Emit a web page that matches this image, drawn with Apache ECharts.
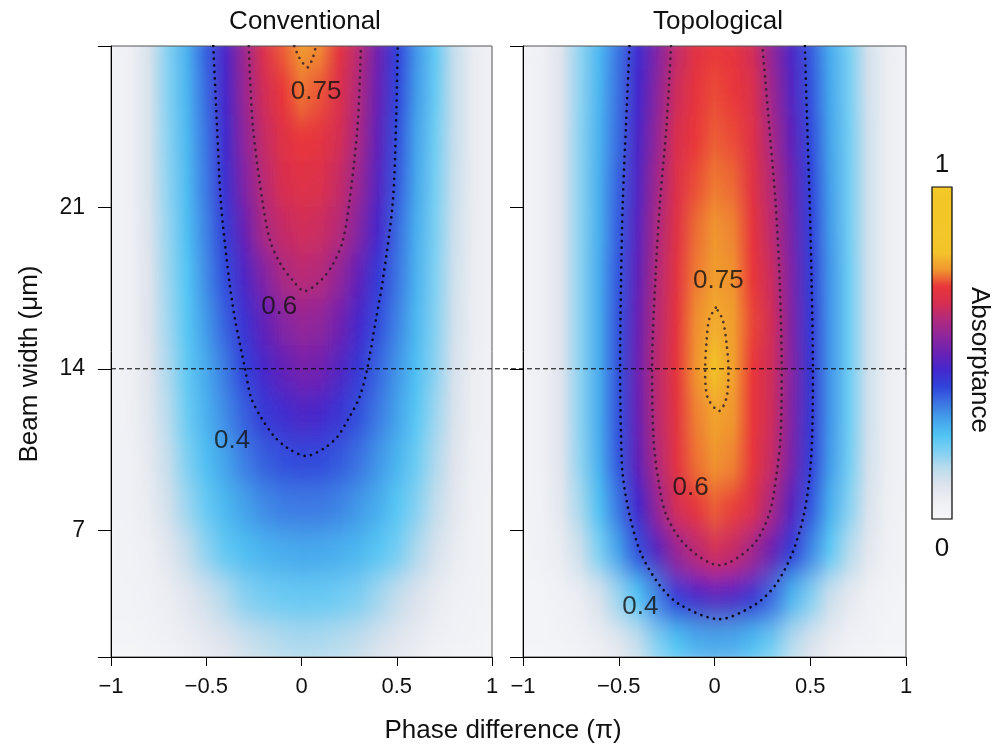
<!DOCTYPE html>
<html>
<head>
<meta charset="utf-8">
<script src="https://cdn.jsdelivr.net/npm/echarts@6/dist/echarts.min.js"></script>
<style>
html, body { margin: 0; padding: 0; background: #fff; }
#wrap { position: relative; width: 997px; height: 745px; }
#bg, #fg { position: absolute; left: 0; top: 0; width: 997px; height: 745px; }
/* soften the 2 um row steps of the colour field (vertical only) */
#bg { filter: url(#vblur); clip-path: inset(46px 91px 88px 111px); }
</style>
</head>
<body>
<svg width="0" height="0" style="position:absolute">
  <defs>
    <filter id="vblur" x="0" y="-0.2" width="1" height="1.4">
      <feGaussianBlur stdDeviation="0 14"/>
    </filter>
  </defs>
</svg>
<div id="wrap"><div id="bg"></div><div id="fg"></div></div>
<script>
var FONT = "'Liberation Sans', Arial, sans-serif";

// columns of the colour field (phase difference, in pi) and rows (beam width, um)
var phase = [-1, -0.9, -0.8, -0.7, -0.6, -0.5, -0.4, -0.3, -0.2, -0.1, 0,
             0.1, 0.2, 0.3, 0.4, 0.5, 0.6, 0.7, 0.8, 0.9, 1];
var beam = [28, 26, 24, 22, 20, 18, 16, 14, 12, 10, 8, 6, 4, 2];

// absorptance, one row per beam width
var convRows = [
  [0.03,0.05,0.11,0.20,0.28,0.37,0.46,0.57,0.66,0.72,0.755,0.742,0.685,0.61,0.51,0.405,0.315,0.235,0.14,0.07,0.035],
  [0.03,0.05,0.11,0.20,0.275,0.36,0.455,0.565,0.64,0.70,0.732,0.715,0.66,0.60,0.50,0.397,0.31,0.23,0.14,0.07,0.035],
  [0.03,0.05,0.11,0.195,0.27,0.35,0.445,0.55,0.625,0.67,0.70,0.685,0.645,0.587,0.49,0.387,0.30,0.22,0.14,0.07,0.035],
  [0.03,0.05,0.11,0.19,0.265,0.345,0.435,0.53,0.61,0.65,0.67,0.66,0.625,0.565,0.475,0.378,0.295,0.215,0.135,0.07,0.035],
  [0.03,0.05,0.105,0.185,0.26,0.335,0.41,0.50,0.59,0.625,0.64,0.632,0.605,0.535,0.455,0.36,0.285,0.21,0.13,0.068,0.035],
  [0.03,0.05,0.10,0.18,0.25,0.325,0.39,0.465,0.53,0.59,0.61,0.602,0.555,0.49,0.415,0.35,0.28,0.205,0.125,0.065,0.035],
  [0.03,0.05,0.10,0.175,0.245,0.31,0.37,0.43,0.49,0.535,0.56,0.55,0.51,0.455,0.39,0.335,0.27,0.20,0.12,0.065,0.035],
  [0.03,0.05,0.095,0.165,0.235,0.29,0.345,0.40,0.455,0.49,0.515,0.508,0.47,0.42,0.365,0.315,0.26,0.195,0.115,0.06,0.035],
  [0.03,0.05,0.09,0.155,0.225,0.28,0.325,0.37,0.415,0.44,0.46,0.452,0.425,0.385,0.345,0.30,0.245,0.18,0.11,0.06,0.035],
  [0.03,0.045,0.08,0.14,0.205,0.26,0.30,0.34,0.37,0.387,0.395,0.392,0.377,0.352,0.315,0.275,0.225,0.165,0.10,0.055,0.035],
  [0.03,0.04,0.07,0.12,0.18,0.23,0.27,0.30,0.325,0.34,0.345,0.343,0.332,0.31,0.285,0.245,0.20,0.145,0.09,0.05,0.032],
  [0.03,0.035,0.055,0.09,0.14,0.19,0.235,0.26,0.275,0.285,0.29,0.288,0.28,0.268,0.245,0.215,0.165,0.115,0.07,0.045,0.03],
  [0.03,0.03,0.04,0.06,0.09,0.12,0.16,0.195,0.215,0.225,0.23,0.228,0.22,0.205,0.175,0.14,0.105,0.075,0.05,0.035,0.03],
  [0.02,0.025,0.03,0.04,0.06,0.08,0.10,0.125,0.145,0.16,0.165,0.163,0.155,0.14,0.115,0.09,0.07,0.05,0.035,0.028,0.02]
];
var topoRows = [
  [0.03,0.05,0.10,0.19,0.27,0.35,0.44,0.53,0.62,0.675,0.70,0.69,0.64,0.555,0.465,0.375,0.29,0.215,0.12,0.06,0.035],
  [0.03,0.05,0.10,0.19,0.275,0.355,0.45,0.545,0.635,0.69,0.71,0.70,0.655,0.572,0.475,0.383,0.295,0.215,0.12,0.06,0.035],
  [0.03,0.05,0.10,0.195,0.28,0.36,0.46,0.56,0.65,0.70,0.72,0.71,0.665,0.59,0.49,0.392,0.30,0.22,0.125,0.06,0.035],
  [0.03,0.05,0.10,0.195,0.285,0.37,0.47,0.58,0.66,0.712,0.735,0.725,0.675,0.605,0.51,0.40,0.305,0.22,0.125,0.06,0.035],
  [0.03,0.05,0.10,0.195,0.285,0.375,0.48,0.595,0.67,0.728,0.75,0.74,0.69,0.615,0.52,0.405,0.31,0.22,0.125,0.06,0.035],
  [0.03,0.05,0.10,0.195,0.29,0.38,0.49,0.605,0.68,0.735,0.758,0.748,0.70,0.63,0.53,0.41,0.315,0.225,0.125,0.06,0.035],
  [0.03,0.05,0.10,0.195,0.29,0.385,0.50,0.61,0.688,0.745,0.775,0.758,0.708,0.64,0.535,0.415,0.315,0.225,0.125,0.06,0.035],
  [0.03,0.05,0.10,0.195,0.29,0.385,0.505,0.615,0.69,0.748,0.80,0.76,0.70,0.635,0.54,0.42,0.315,0.225,0.125,0.06,0.035],
  [0.03,0.05,0.10,0.195,0.29,0.385,0.50,0.612,0.685,0.738,0.765,0.75,0.70,0.635,0.535,0.418,0.315,0.225,0.125,0.06,0.035],
  [0.03,0.05,0.10,0.19,0.285,0.38,0.49,0.602,0.68,0.73,0.75,0.74,0.695,0.625,0.525,0.41,0.31,0.22,0.12,0.06,0.035],
  [0.03,0.045,0.09,0.17,0.26,0.35,0.45,0.56,0.645,0.695,0.72,0.705,0.66,0.59,0.48,0.38,0.285,0.20,0.11,0.055,0.032],
  [0.025,0.04,0.07,0.13,0.21,0.30,0.385,0.475,0.56,0.61,0.64,0.625,0.575,0.50,0.41,0.33,0.24,0.16,0.09,0.05,0.03],
  [0.02,0.025,0.04,0.065,0.11,0.18,0.25,0.33,0.405,0.45,0.47,0.46,0.42,0.355,0.275,0.20,0.13,0.08,0.05,0.03,0.02],
  [0.02,0.02,0.03,0.04,0.06,0.09,0.14,0.20,0.25,0.28,0.29,0.285,0.26,0.22,0.16,0.11,0.07,0.045,0.035,0.025,0.02]
];

// contour lines [phase, beam width]
var convC40 = [[-0.463,28],[-0.444,24.6],[-0.423,21.2],[-0.379,17.8],[-0.349,16.15],[-0.295,13.95],[-0.265,12.76],
  [-0.213,11.9],[-0.143,11.07],[-0.073,10.56],[0.024,10.22],[0.12,10.56],[0.19,11.07],[0.251,11.9],[0.304,12.76],
  [0.344,13.95],[0.391,16.15],[0.426,17.8],[0.479,21.2],[0.496,24.6],[0.505,28]];
var convC60 = [[-0.277,28],[-0.256,24.6],[-0.204,21.2],[-0.164,19.53],[-0.108,18.52],[-0.046,17.84],[0.015,17.37],
  [0.102,17.84],[0.164,18.52],[0.216,19.53],[0.251,21.2],[0.295,24.6],[0.312,28]];
var convC75 = [[-0.038,28],[-0.011,27.49],[0.032,27.07],[0.059,27.49],[0.076,28]];
var topoC40 = [[-0.444,28],[-0.462,24.6],[-0.479,21.2],[-0.488,17.84],[-0.493,13.95],[-0.488,11.07],[-0.479,9.37],
  [-0.444,7.68],[-0.384,5.99],[-0.288,4.63],[-0.184,3.79],[0.024,3.14],[0.215,3.79],[0.319,4.63],[0.406,5.99],
  [0.467,7.68],[0.497,9.37],[0.51,11.07],[0.514,13.95],[0.507,17.84],[0.497,21.2],[0.484,24.6],[0.472,28]];
var topoC60 = [[-0.227,28],[-0.25,24.6],[-0.285,21.2],[-0.309,17.84],[-0.326,13.95],[-0.319,11.07],[-0.297,9.37],
  [-0.253,7.68],[-0.149,6.33],[0.024,5.48],[0.198,6.33],[0.285,7.68],[0.323,9.37],[0.345,11.07],[0.351,13.95],
  [0.34,17.84],[0.319,21.2],[0.285,24.6],[0.25,28]];
var topoC75 = [[0.007,16.65],[-0.028,16.15],[-0.042,15.13],[-0.049,13.95],[-0.036,12.76],[0.024,12.17],[0.063,12.76],
  [0.073,13.95],[0.0625,15.13],[0.042,16.15],[0.007,16.65]];

// contour labels [phase, beam width, text]
var convLabels = [[0.077, 26.0, '0.75'], [-0.117, 16.68, '0.6'], [-0.364, 10.86, '0.4']];
var topoLabels = [[0.02, 17.8, '0.75'], [-0.125, 8.82, '0.6'], [-0.387, 3.66, '0.4']];

var yTickValues = [1.5, 7, 14, 21, 28];
var yLabelValues = [7, 14, 21];
var cutWidth = 14;

var absColors = ['#f7f7fa','#eef0f4','#dfe3ec','#bddcec','#84d0f2','#52c5f4','#44a2ea','#3b74e2','#3042da',
  '#4428cc','#6a22b4','#8e269c','#b02a7e','#d82e50','#e8363a','#f0952f','#f3c22a','#f3c62a','#f3c628','#f3c628','#f4c828'];

var grids = [
  {left: 111, top: 46, width: 381, height: 611},
  {left: 523, top: 46, width: 383, height: 611}
];

// ---------- colour field ----------
var bg = echarts.init(document.getElementById('bg'));
var half = (beam[0] - beam[1]) / 2;
function band(rows, idx) {
  return {
    type: 'custom', xAxisIndex: idx, yAxisIndex: idx, silent: true,
    data: beam.map(function (b, i) { return [0, b, i]; }),
    encode: {x: 0, y: 1},
    renderItem: function (params, api) {
      var b = api.value(1);
      var row = rows[api.value(2)];
      var p0 = api.coord([phase[0], b + half]);
      var p1 = api.coord([phase[phase.length - 1], b - half]);
      var span = phase[phase.length - 1] - phase[0];
      var stops = row.map(function (v, i) {
        return {offset: (phase[i] - phase[0]) / span, color: echarts.color.lerp(v, absColors)};
      });
      return {
        type: 'rect',
        shape: {x: p0[0], y: p0[1] - 0.5, width: p1[0] - p0[0], height: p1[1] - p0[1] + 1},
        style: {fill: new echarts.graphic.LinearGradient(0, 0, 1, 0, stops)}
      };
    }
  };
}
bg.setOption({
  backgroundColor: 'transparent',
  animation: false,
  grid: grids,
  xAxis: [0, 1].map(function (i) { return {gridIndex: i, type: 'value', min: -1, max: 1, show: false}; }),
  yAxis: [0, 1].map(function (i) { return {gridIndex: i, type: 'value', min: 1.5, max: 28, show: false}; }),
  series: [band(convRows, 0), band(topoRows, 1)]
});

// ---------- axes, contours, labels ----------
var fg = echarts.init(document.getElementById('fg'));
var minus = function (v) { return String(v).replace('-', '\u2212'); };

function xAx(i) {
  return {
    gridIndex: i, type: 'value', min: -1, max: 1, interval: 0.5,
    axisLine: {onZero: false, lineStyle: {color: '#000', width: 1}},
    axisTick: {length: 9, lineStyle: {color: '#000'}},
    axisLabel: {formatter: minus, fontSize: 22, color: '#111', fontFamily: FONT, margin: 19},
    splitLine: {show: false}
  };
}
function yAx(i, labels) {
  return {
    gridIndex: i, type: 'value', min: 1.5, max: 28,
    axisLine: {show: true, onZero: false, lineStyle: {color: '#000', width: 1}},
    axisTick: {show: true, length: 13, customValues: yTickValues, lineStyle: {color: '#000'}},
    axisLabel: {show: labels, customValues: yLabelValues, fontSize: 23, color: '#111', fontFamily: FONT, margin: 26},
    splitLine: {show: false}
  };
}
function contour(pts, idx, color) {
  return {
    type: 'line', xAxisIndex: idx, yAxisIndex: idx, data: pts, symbol: 'none', smooth: 0.3,
    silent: true, z: 5,
    lineStyle: {color: color, width: 2.7, type: [0.01, 6.5], cap: 'round'}
  };
}
function labels(list, idx) {
  return {
    type: 'scatter', xAxisIndex: idx, yAxisIndex: idx, silent: true, z: 6, symbolSize: 1,
    itemStyle: {color: 'rgba(0,0,0,0)'},
    data: list.map(function (d) { return {value: [d[0], d[1]], name: d[2]}; }),
    label: {show: true, position: 'inside', formatter: '{b}', fontSize: 26, color: '#111', fontFamily: FONT}
  };
}
function txt(x, y, s, rot) {
  var el = {type: 'text', x: x, y: y, silent: true,
    style: {text: s, fontSize: 26, fontFamily: FONT, fill: '#111', align: 'center', verticalAlign: 'middle'}};
  if (rot) el.rotation = rot;
  return el;
}

fg.setOption({
  backgroundColor: 'transparent',
  animation: false,
  grid: [
    {left: 111, top: 46, width: 381, height: 611, show: true, borderColor: '#555', borderWidth: 1},
    {left: 523, top: 46, width: 383, height: 611, show: true, borderColor: '#555', borderWidth: 1},
    {left: 111, top: 46, width: 795, height: 611}
  ],
  xAxis: [xAx(0), xAx(1), {
    gridIndex: 2, type: 'value', min: 0, max: 1, show: false
  }],
  yAxis: [yAx(0, true), yAx(1, false), {
    gridIndex: 2, type: 'value', min: 1.5, max: 28, show: false
  }],
  visualMap: {
    type: 'continuous', min: 0, max: 1, seriesIndex: [], calculable: false,
    left: 932, top: 187, itemWidth: 20, itemHeight: 332, padding: 0,
    inRange: {color: absColors}, text: null
  },
  graphic: [
    {type: 'rect', silent: true, z: 100, shape: {x: 932, y: 187, width: 20, height: 332},
      style: {fill: null, stroke: '#000', lineWidth: 1.2}},
    txt(942, 165, '1'),
    txt(942, 549, '0'),
    txt(979, 360, 'Absorptance', -Math.PI / 2),
    txt(305, 22, 'Conventional'),
    txt(718, 22, 'Topological'),
    txt(30, 364, 'Beam width (\u03bcm)', Math.PI / 2),
    txt(503, 731, 'Phase difference (\u03c0)')
  ],
  series: [
    contour(convC40, 0, '#0a0a1e'),
    contour(convC60, 0, 'rgba(40,25,40,0.8)'),
    contour(convC75, 0, 'rgba(40,25,40,0.8)'),
    contour(topoC40, 1, '#0a0a1e'),
    contour(topoC60, 1, 'rgba(40,25,40,0.8)'),
    contour(topoC75, 1, 'rgba(40,25,40,0.8)'),
    labels(convLabels, 0),
    labels(topoLabels, 1),
    {
      type: 'line', xAxisIndex: 2, yAxisIndex: 2, symbol: 'none', silent: true, z: 4,
      data: [[0, cutWidth], [1, cutWidth]],
      lineStyle: {color: '#000', width: 1, type: [5, 3]}
    }
  ]
});
</script>
</body>
</html>
